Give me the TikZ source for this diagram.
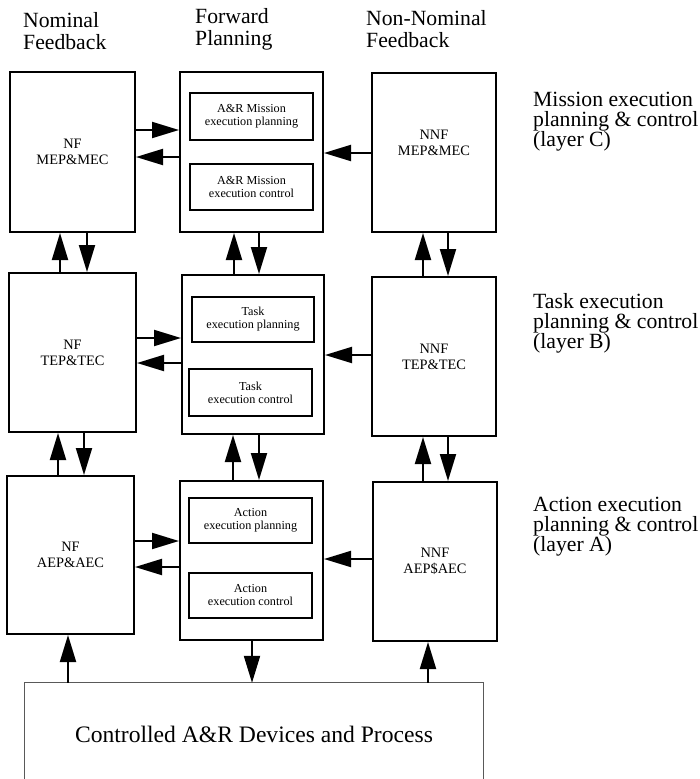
\documentclass[tikz,border=0pt]{standalone}
\usepackage{fontspec}
\setmainfont{Liberation Serif}
\usetikzlibrary{arrows.meta}
\begin{document}
\begin{tikzpicture}[x=1pt,y=-1pt,
  bigbox/.style={draw, line width=2pt, inner sep=0pt, align=center, font=\fontsize{14.4}{16}\selectfont},
  inbox/.style={draw, line width=1.8pt, inner sep=0pt, align=center, font=\fontsize{12.2}{13}\selectfont},
  conn/.style={line width=2pt, -{Triangle[length=27pt,width=16pt]}},
  head/.style={align=left, anchor=north west, inner sep=0pt, font=\fontsize{21.7}{22}\selectfont},
  layer/.style={align=left, anchor=north west, inner sep=0pt, font=\fontsize{21.7}{20}\selectfont},
  devline/.style={line width=0.8pt, draw=black!65}]

\useasboundingbox (0,0) rectangle (700,779);

% headers
\node[head] (hnf) at (23,12) {Nominal\\Feedback};
\node[head] (hfp) at (195,8) {Forward\\Planning};
\node[head] (hnnf) at (366,10) {Non-Nominal\\Feedback};

% layer labels
\node[layer] (lc) at (533,92) {Mission execution\\planning \& control\\(layer C)};
\node[layer] (lb) at (533,293) {Task execution\\planning \& control\\(layer B)};
\node[layer] (la) at (533,497) {Action execution\\planning \& control\\(layer A)};

% layer C
\node[bigbox, minimum width=125pt, minimum height=160pt] (nf1) at (72.5,152) {NF\\MEP\&MEC};
\node[bigbox, minimum width=143pt, minimum height=160pt] (fp1) at (251.5,152) {};
\node[inbox, minimum width=123pt, minimum height=47pt] (fp1p) at (251.5,116.5) {A\&R Mission\\execution planning};
\node[inbox, minimum width=123pt, minimum height=46pt] (fp1c) at (251.5,187) {A\&R Mission\\execution control};
\node[bigbox, minimum width=124pt, minimum height=159pt, text depth=20pt] (nnf1) at (434,152.5) {NNF\\MEP\&MEC};

% layer B
\node[bigbox, minimum width=127pt, minimum height=159pt] (nf2) at (72.5,352.5) {NF\\TEP\&TEC};
\node[bigbox, minimum width=142pt, minimum height=159pt] (fp2) at (253,354.5) {};
\node[inbox, minimum width=122pt, minimum height=45pt] (fp2p) at (253,319.5) {Task\\execution planning};
\node[inbox, minimum width=123pt, minimum height=47pt] (fp2c) at (250.5,392.5) {Task\\execution control};
\node[bigbox, minimum width=124pt, minimum height=159pt] (nnf2) at (434,356.5) {NNF\\TEP\&TEC};

% layer A
\node[bigbox, minimum width=127pt, minimum height=158pt] (nf3) at (70.5,555) {NF\\AEP\&AEC};
\node[bigbox, minimum width=143pt, minimum height=159pt] (fp3) at (251.5,560.5) {};
\node[inbox, minimum width=123pt, minimum height=45pt] (fp3p) at (250.5,520.5) {Action\\execution planning};
\node[inbox, minimum width=123pt, minimum height=45pt] (fp3c) at (250.5,595.5) {Action\\execution control};
\node[bigbox, minimum width=124pt, minimum height=159pt] (nnf3) at (435,561.5) {NNF\\AEP\$AEC};

% devices
\node[minimum width=458pt, minimum height=102pt, inner sep=0pt, font=\fontsize{23.6}{26}\selectfont] (dev) at (254,734) {Controlled A\&R Devices and Process};
\draw[devline] (dev.south west) -- (dev.north west) -- (dev.north east) -- (dev.south east);

% helper coordinates
\coordinate (xnfu1) at (60,0);  \coordinate (xnfd1) at (87,0);
\coordinate (xfpu1) at (234,0); \coordinate (xfpd1) at (259,0);
\coordinate (xnnu1) at (423,0); \coordinate (xnnd1) at (448,0);
\coordinate (xnfu2) at (58,0);  \coordinate (xnfd2) at (84,0);
\coordinate (xfpu2) at (233,0); \coordinate (xfpd2) at (259,0);
\coordinate (xnnu2) at (423,0); \coordinate (xnnd2) at (448,0);
\coordinate (xdnf) at (68,0); \coordinate (xdfp) at (252,0); \coordinate (xdnn) at (428,0);
\coordinate (yr1) at (0,130); \coordinate (yl1) at (0,157); \coordinate (yn1) at (0,153);
\coordinate (yr2) at (0,338); \coordinate (yl2) at (0,363); \coordinate (yn2) at (0,355);
\coordinate (yr3) at (0,541); \coordinate (yl3) at (0,567); \coordinate (yn3) at (0,559);

% vertical C-B
\draw[conn] (nf2.north -| xnfu1) -- (nf1.south -| xnfu1);
\draw[conn] (nf1.south -| xnfd1) -- (nf2.north -| xnfd1);
\draw[conn] (fp2.north -| xfpu1) -- (fp1.south -| xfpu1);
\draw[conn] (fp1.south -| xfpd1) -- (fp2.north -| xfpd1);
\draw[conn] (nnf2.north -| xnnu1) -- (nnf1.south -| xnnu1);
\draw[conn] (nnf1.south -| xnnd1) -- (nnf2.north -| xnnd1);

% vertical B-A
\draw[conn] (nf3.north -| xnfu2) -- (nf2.south -| xnfu2);
\draw[conn] (nf2.south -| xnfd2) -- (nf3.north -| xnfd2);
\draw[conn] (fp3.north -| xfpu2) -- (fp2.south -| xfpu2);
\draw[conn] (fp2.south -| xfpd2) -- (fp3.north -| xfpd2);
\draw[conn] (nnf3.north -| xnnu2) -- (nnf2.south -| xnnu2);
\draw[conn] (nnf2.south -| xnnd2) -- (nnf3.north -| xnnd2);

% horizontal
\draw[conn] (nf1.east |- yr1) -- (fp1.west |- yr1);
\draw[conn] (fp1.west |- yl1) -- (nf1.east |- yl1);
\draw[conn] (nnf1.west |- yn1) -- (fp1.east |- yn1);
\draw[conn] (nf2.east |- yr2) -- (fp2.west |- yr2);
\draw[conn] (fp2.west |- yl2) -- (nf2.east |- yl2);
\draw[conn] (nnf2.west |- yn2) -- (fp2.east |- yn2);
\draw[conn] (nf3.east |- yr3) -- (fp3.west |- yr3);
\draw[conn] (fp3.west |- yl3) -- (nf3.east |- yl3);
\draw[conn] (nnf3.west |- yn3) -- (fp3.east |- yn3);

% devices links
\draw[conn] (dev.north -| xdnf) -- (nf3.south -| xdnf);
\draw[conn] (fp3.south -| xdfp) -- (dev.north -| xdfp);
\draw[conn] (dev.north -| xdnn) -- (nnf3.south -| xdnn);
\end{tikzpicture}
\end{document}
